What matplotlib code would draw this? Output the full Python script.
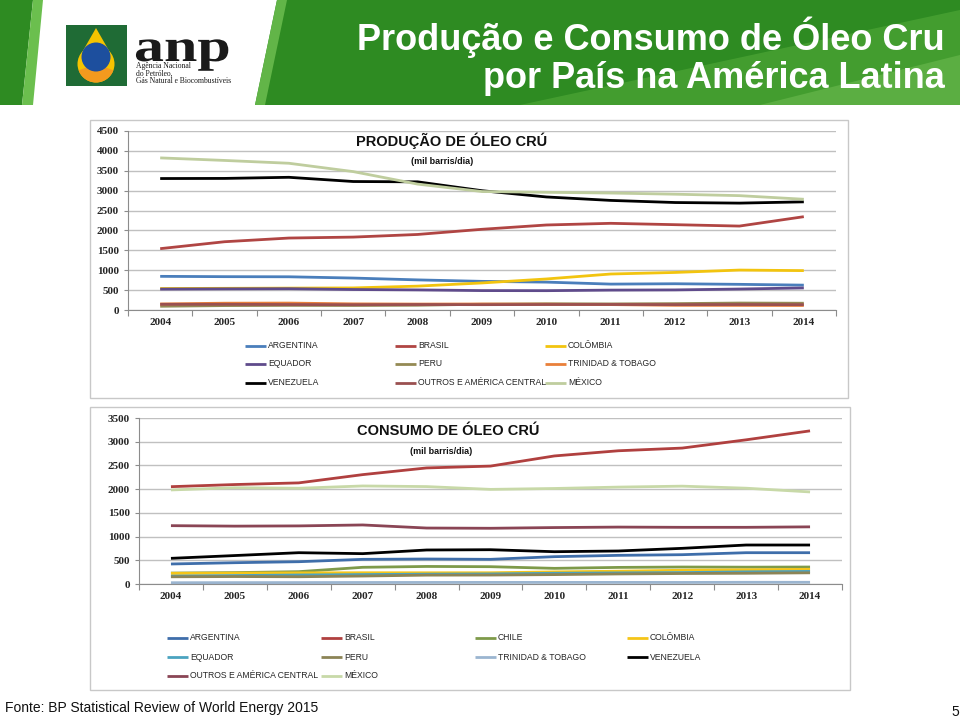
import numpy as np
import matplotlib.pyplot as plt
from matplotlib.patches import Rectangle, Polygon, Circle, Wedge, PathPatch
from matplotlib.textpath import TextPath
from matplotlib.font_manager import FontProperties
from matplotlib.transforms import Affine2D

years = ['2004', '2005', '2006', '2007', '2008', '2009', '2010', '2011', '2012', '2013', '2014']

# producao (mil barris/dia)
prod_names = ['ARGENTINA', 'BRASIL', 'COLÔMBIA', 'EQUADOR', 'PERU', 'TRINIDAD & TOBAGO',
              'VENEZUELA', 'OUTROS E AMÉRICA CENTRAL', 'MÉXICO']
prod_argentina = [846, 838, 835, 803, 757, 720, 701, 651, 660, 645, 625]
prod_brasil = [1542, 1716, 1809, 1833, 1899, 2029, 2137, 2179, 2145, 2110, 2346]
prod_colombia = [540, 545, 550, 555, 600, 680, 780, 905, 944, 1004, 990]
prod_equador = [525, 531, 535, 515, 505, 488, 486, 500, 505, 527, 555]
prod_peru = [94, 111, 116, 114, 120, 145, 157, 153, 160, 175, 170]
prod_trinidad = [152, 171, 174, 154, 149, 151, 145, 136, 118, 116, 114]
prod_venezuela = [3305, 3308, 3336, 3230, 3222, 2999, 2842, 2755, 2702, 2687, 2719]
prod_outros = [143, 143, 138, 133, 138, 134, 138, 139, 136, 138, 134]
prod_mexico = [3824, 3760, 3689, 3479, 3165, 2978, 2959, 2940, 2911, 2875, 2784]
prod_colors = ['#4A7EBB', '#B04543', '#F2C40F', '#5F4B8B', '#948A54', '#E9803A',
               '#000000', '#9A5050', '#BFCD9E']

# consumo (mil barris/dia)
cons_names = ['ARGENTINA', 'BRASIL', 'CHILE', 'COLÔMBIA', 'EQUADOR', 'PERU',
              'TRINIDAD & TOBAGO', 'VENEZUELA', 'OUTROS E AMÉRICA CENTRAL', 'MÉXICO']
cons_argentina = [422, 449, 470, 520, 527, 520, 576, 604, 618, 660, 660]
cons_brasil = [2052, 2097, 2132, 2306, 2447, 2486, 2700, 2809, 2866, 3040, 3229]
cons_chile = [230, 240, 260, 352, 370, 365, 330, 350, 358, 355, 358]
cons_colombia = [225, 230, 235, 237, 236, 237, 255, 270, 290, 300, 310]
cons_equador = [165, 178, 190, 199, 207, 212, 226, 234, 241, 256, 266]
cons_peru = [152, 157, 153, 168, 187, 189, 198, 212, 221, 226, 236]
cons_trinidad = [27, 29, 30, 32, 33, 34, 34, 34, 33, 36, 36]
cons_venezuela = [541, 600, 660, 640, 717, 723, 681, 696, 752, 822, 822]
cons_outros = [1230, 1220, 1225, 1245, 1180, 1175, 1190, 1200, 1195, 1195, 1205]
cons_mexico = [1983, 2030, 2019, 2067, 2054, 1995, 2014, 2043, 2063, 2020, 1941]
cons_colors = ['#3F6EAA', '#B0403F', '#7E9A4A', '#F5C518', '#4BA3C0', '#8C8456',
               '#9BB5D0', '#000000', '#8A4555', '#C8D9A8']

prod_series = [prod_argentina, prod_brasil, prod_colombia, prod_equador, prod_peru,
               prod_trinidad, prod_venezuela, prod_outros, prod_mexico]
cons_series = [cons_argentina, cons_brasil, cons_chile, cons_colombia, cons_equador,
               cons_peru, cons_trinidad, cons_venezuela, cons_outros, cons_mexico]

W, H = 960, 720
fig = plt.figure(figsize=(9.6, 7.2), dpi=100)
fig.patch.set_facecolor('white')

# fundo em coordenadas de pixel
bg = fig.add_axes([0, 0, 1, 1])
bg.set_xlim(0, W)
bg.set_ylim(H, 0)
bg.axis('off')

# cabecalho verde
bg.add_patch(Polygon([(0, 0), (33, 0), (22, 105), (0, 105)], color='#2E8B22', lw=0))
bg.add_patch(Polygon([(33, 0), (43, 0), (33, 105), (22, 105)], color='#6BBF4E', lw=0))
bg.add_patch(Polygon([(277, 0), (960, 0), (960, 105), (255, 105)], color='#2E8B22', lw=0))
bg.add_patch(Polygon([(277, 0), (287, 0), (265, 105), (255, 105)], color='#62B548', lw=0))
bg.add_patch(Polygon([(520, 105), (960, 105), (960, 10)], color='#6CC04A', alpha=0.35, lw=0))
bg.add_patch(Polygon([(760, 105), (960, 105), (960, 55)], color='#8AD066', alpha=0.35, lw=0))

# logo anp
bg.add_patch(Rectangle((66, 25), 61, 61, color='#1F6B35', lw=0))
bg.add_patch(Polygon([(96, 28), (80.5, 55), (111.5, 55)], color='#F5C400', lw=0))
bg.add_patch(Circle((96, 64), 18.5, color='#F5C400', lw=0))
bg.add_patch(Wedge((96, 64), 18.5, 20, 160, color='#F39A1E', lw=0))
bg.add_patch(Circle((96, 57), 14.5, color='#1D4F9E', lw=0))
tp = TextPath((0, 0), 'anp', size=1, prop=FontProperties(family='Liberation Serif', weight='bold'))
tr = Affine2D().scale(60, -46).translate(134, 61) + bg.transData
bg.add_patch(PathPatch(tp, transform=tr, color='#1a1a1a', lw=0))
for txt, yy in [('Agência Nacional', 68), ('do Petróleo,', 75.5), ('Gás Natural e Biocombustíveis', 83)]:
    bg.text(136, yy, txt, fontsize=5.5, family='Liberation Serif', color='#1a1a1a', va='baseline')

bg.text(945, 50, 'Produção e Consumo de Óleo Cru', fontsize=26, fontweight='bold',
        family='Liberation Sans', color='white', ha='right', va='baseline')
bg.text(945, 88, 'por País na América Latina', fontsize=26, fontweight='bold',
        family='Liberation Sans', color='white', ha='right', va='baseline')

# caixas dos graficos
bg.add_patch(Rectangle((90, 120), 758, 278, facecolor='white', edgecolor='#C8C8C8', lw=1))
bg.add_patch(Rectangle((90, 407), 760, 283, facecolor='white', edgecolor='#C8C8C8', lw=1))


def make_chart(left, right, y0, ytop, ymax, series, colors):
    ax = fig.add_axes([left / W, (H - y0) / H, (right - left) / W, (y0 - ytop) / H])
    ax.set_facecolor('none')
    x = np.arange(len(years))
    lines = []
    for vals, c in zip(series, colors):
        ln, = ax.plot(x, vals, color=c, lw=2, solid_capstyle='butt', solid_joinstyle='round')
        lines.append(ln)
    ax.set_xlim(-0.5, len(years) - 0.5)
    ax.set_ylim(0, ymax)
    ax.set_yticks(np.arange(0, ymax + 1, 500))
    ax.set_xticks(x)
    ax.set_xticklabels(years)
    ax.set_xticks(np.arange(-0.5, len(years)), minor=True)
    ax.tick_params(axis='x', which='major', length=0, pad=6)
    ax.tick_params(axis='x', which='minor', length=4, width=0.8, color='#8C8C8C', direction='out')
    ax.tick_params(axis='y', length=3, width=0.8, color='#8C8C8C', pad=3.5)
    for lab in ax.get_xticklabels() + ax.get_yticklabels():
        lab.set_family('Liberation Serif')
        lab.set_fontweight('bold')
        lab.set_fontsize(8)
        lab.set_color('#262626')
    ax.grid(axis='y', color='#C0C0C0', lw=1)
    ax.set_axisbelow(True)
    for s in ['top', 'right']:
        ax.spines[s].set_visible(False)
    for s in ['left', 'bottom']:
        ax.spines[s].set_color('#8C8C8C')
        ax.spines[s].set_linewidth(0.8)
    return lines


prod_lines = make_chart(128, 836, 310, 131, 4500, prod_series, prod_colors)
cons_lines = make_chart(139, 842, 584, 418, 3500, cons_series, cons_colors)

bg.text(452, 141, 'PRODUÇÃO DE ÓLEO CRÚ', fontsize=10.5, fontweight='bold',
        family='Liberation Sans', ha='center', va='center', color='#111111')
bg.text(442, 161, '(mil barris/dia)', fontsize=6.5, fontweight='bold',
        family='Liberation Sans', ha='center', va='center', color='#111111')
bg.text(448, 431, 'CONSUMO DE ÓLEO CRÚ', fontsize=10.5, fontweight='bold',
        family='Liberation Sans', ha='center', va='center', color='#111111')
bg.text(441, 451, '(mil barris/dia)', fontsize=6.5, fontweight='bold',
        family='Liberation Sans', ha='center', va='center', color='#111111')


def draw_legend(names, lines, cols_x, rows_y, ncol):
    for i, (name, ln) in enumerate(zip(names, lines)):
        r, c = divmod(i, ncol)
        x0, y0 = cols_x[c], rows_y[r]
        bg.plot([x0, x0 + 21], [y0, y0], color=ln.get_color(), lw=2, solid_capstyle='butt')
        bg.text(x0 + 23, y0, name, fontsize=6.2, family='Liberation Sans',
                ha='left', va='center', color='#262626')


draw_legend(prod_names, prod_lines, [245, 395, 545], [345.5, 364, 382.5], 3)
draw_legend(cons_names, cons_lines, [167, 321, 475, 627], [638, 657, 676], 4)

bg.text(5, 712, 'Fonte: BP Statistical Review of World Energy 2015', fontsize=10,
        family='Liberation Sans', ha='left', va='baseline', color='#111111')
bg.text(955, 716, '5', fontsize=10, family='Liberation Sans', ha='center', va='baseline', color='#111111')

fig.savefig('out.png', dpi=100)
